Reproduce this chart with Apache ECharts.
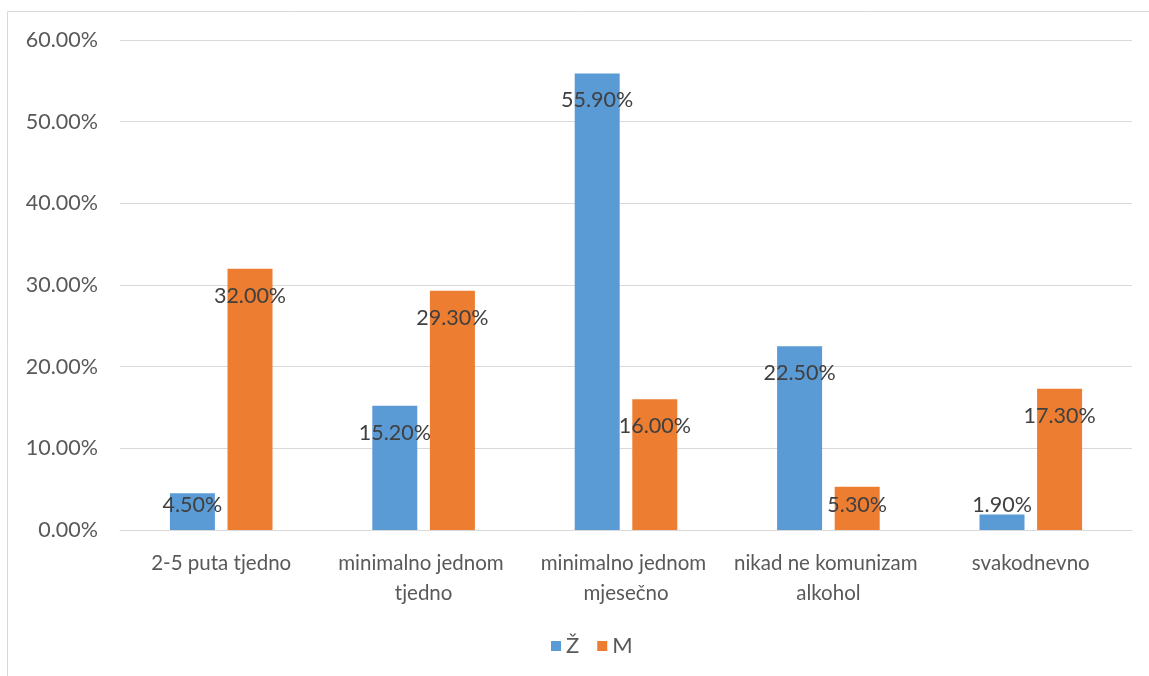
<!DOCTYPE html>
<html><head><meta charset="utf-8">
<script src="https://cdn.jsdelivr.net/npm/echarts@6/dist/echarts.min.js"></script>
<style>html,body{margin:0;padding:0;background:#fff}#c{width:1149px;height:676px}</style>
</head><body><div id="c"></div>
<script>
const categories = ['2-5 puta tjedno', 'minimalno jednom tjedno', 'minimalno jednom mjesečno', 'nikad ne komunizam alkohol', 'svakodnevno'];
const seriesNames = ['Ž', 'M'];
const valuesZ = [4.5, 15.2, 55.9, 22.5, 1.9];
const valuesM = [32.0, 29.3, 16.0, 5.3, 17.3];
const yTicks = { min: 0, max: 60, interval: 10 };

const FONT = 'Lato';
function items(vals) {
  return vals.map(v => {
    const small = v < 6.4;
    return {
      value: v,
      label: small ? { position: 'insideBottom', distance: 14 } : { position: 'insideTop', distance: 16 }
    };
  });
}
const chart = echarts.init(document.getElementById('c'));
const labelCommon = {
  show: true, color: '#404040', fontFamily: FONT, fontSize: 21.5,
  formatter: p => p.value.toFixed(2) + '%'
};
chart.setOption({
  animation: false,
  textStyle: { fontFamily: FONT },
  graphic: [{ type: 'rect', shape: { x: 7.5, y: 11.5, width: 1200, height: 700 }, style: { fill: 'none', stroke: '#d9d9d9', lineWidth: 1 }, silent: true }],
  grid: { left: 120, right: 17, top: 40, bottom: 146 },
  legend: {
    bottom: 14, left: 546, itemWidth: 10, itemHeight: 10, itemGap: 18,
    icon: 'rect',
    textStyle: { color: '#595959', fontSize: 22, fontFamily: FONT },
    data: seriesNames
  },
  xAxis: {
    type: 'category', data: categories,
    axisLine: { lineStyle: { color: '#d9d9d9', width: 1 } },
    axisTick: { show: false },
    axisLabel: { color: '#595959', fontSize: 20.5, fontFamily: FONT, margin: 18, lineHeight: 30, width: 198, overflow: 'break', interval: 0 }
  },
  yAxis: {
    type: 'value', min: yTicks.min, max: yTicks.max, interval: yTicks.interval,
    axisLine: { show: false }, axisTick: { show: false },
    splitLine: { lineStyle: { color: '#d9d9d9', width: 1 } },
    axisLabel: { color: '#595959', fontSize: 21.5, fontFamily: FONT, margin: 22, formatter: v => v.toFixed(2) + '%' }
  },
  series: [
    { name: seriesNames[0], type: 'bar', data: items(valuesZ), barWidth: 45, barGap: '28%', itemStyle: { color: '#5B9BD5' }, label: labelCommon },
    { name: seriesNames[1], type: 'bar', data: items(valuesM), barWidth: 45, barGap: '28%', itemStyle: { color: '#ED7D31' }, label: labelCommon }
  ]
});
</script></body></html>
